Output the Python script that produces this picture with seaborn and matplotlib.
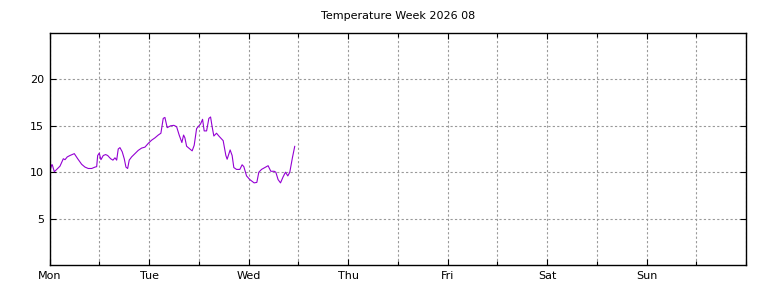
import matplotlib
matplotlib.use("Agg")
import matplotlib.pyplot as plt
import seaborn as sns
import pandas as pd
from matplotlib.ticker import MultipleLocator

hours = [0.05, 0.53, 0.67, 1.16, 1.74, 2.53, 3.33, 3.74, 4.29, 4.94, 5.98, 6.80, 7.76, 8.56,
         9.35, 10.17, 10.97, 11.38, 11.62, 12.0, 12.41, 12.97, 13.54, 14.03, 14.75, 15.30,
         15.79, 16.20, 16.58, 16.99, 17.54, 18.03, 18.44, 18.85, 19.23, 19.81, 20.61, 21.40,
         22.22, 23.02, 23.81, 24.63, 25.43, 26.22, 26.87, 27.43, 27.84, 28.39, 29.21, 30.0,
         30.66, 31.28, 31.93, 32.34, 32.66, 33.07, 33.86, 34.41, 34.90, 35.48, 36.44, 36.92,
         37.31, 37.89, 38.44, 38.85, 39.23, 39.64, 40.29, 40.85, 41.89, 42.54, 42.85, 43.57,
         44.05, 44.46, 45.12, 45.91, 46.46, 46.87, 47.53, 48.33, 49.36, 50.01, 50.49, 51.14,
         51.94, 52.73, 53.38, 54.18, 54.59, 55.14, 55.72, 56.35, 56.92, 57.48, 57.96, 58.61,
         59.16]
temps = [10.05, 10.8, 10.8, 10.05, 10.3, 10.65, 11.45, 11.35, 11.65, 11.8, 12.0, 11.45, 10.85,
         10.55, 10.4, 10.4, 10.55, 10.6, 11.8, 12.05, 11.35, 11.8, 11.9, 11.8, 11.45, 11.3,
         11.55, 11.3, 12.5, 12.65, 12.2, 11.45, 10.55, 10.4, 11.3, 11.65, 12.0, 12.35, 12.6,
         12.7, 13.1, 13.45, 13.7, 14.0, 14.2, 15.8, 15.9, 14.8, 15.0, 15.05, 14.9, 14.0, 13.2,
         14.0, 13.7, 12.8, 12.5, 12.3, 12.9, 14.7, 15.2, 15.7, 14.45, 14.45, 15.8, 15.95, 14.9,
         13.9, 14.2, 13.9, 13.4, 11.8, 11.4, 12.4, 11.8, 10.5, 10.3, 10.3, 10.8, 10.6, 9.6, 9.2,
         8.85, 8.9, 10.0, 10.3, 10.5, 10.7, 10.1, 10.1, 10.0, 9.2, 8.85, 9.5, 10.0, 9.6, 10.0,
         11.6, 12.8]
day_labels = ["Mon", "Tue", "Wed", "Thu", "Fri", "Sat", "Sun"]
y_ticks = [5, 10, 15, 20]
title = "Temperature Week 2026 08"

sns.set_style("ticks")
plt.rcParams['font.family'] = ['DejaVu Sans']
plt.rcParams['text.color'] = 'black'
plt.rcParams['xtick.color'] = 'black'
plt.rcParams['ytick.color'] = 'black'
plt.rcParams['axes.labelcolor'] = 'black'

df = pd.DataFrame({"hour": hours, "temp": temps})

fig = plt.figure(figsize=(7.68, 2.88), dpi=100)
ax = fig.add_axes([49.5 / 768, 23 / 288, (746 - 49.5) / 768, (265 - 33) / 288])
sns.lineplot(data=df, x="hour", y="temp", ax=ax, color="#9400d3", linewidth=0.8)

ax.set_xlim(0, 168)
ax.set_ylim(0, 25)
ax.set_xticks([24 * i for i in range(len(day_labels))])
ax.set_xticklabels(day_labels)
ax.xaxis.set_minor_locator(MultipleLocator(12))
ax.set_yticks(y_ticks)
ax.set_yticklabels([str(v) for v in y_ticks])
ax.set_xlabel("")
ax.set_ylabel("")
ax.tick_params(which="both", direction="in", top=True, right=True, labelsize=8,
               length=4, width=0.8, pad=4, colors="black")
ax.tick_params(which="minor", length=3)
ax.grid(True, which="both", axis="x", linestyle=(0, (2, 2)), color="#999999", linewidth=0.8)
ax.grid(True, which="major", axis="y", linestyle=(0, (2, 2)), color="#999999", linewidth=0.8)
for s in ax.spines.values():
    s.set_linewidth(1.0)
    s.set_color("black")
ax.set_title(title, fontsize=8, pad=10, color="black")

fig.savefig("out.png", dpi=100)
